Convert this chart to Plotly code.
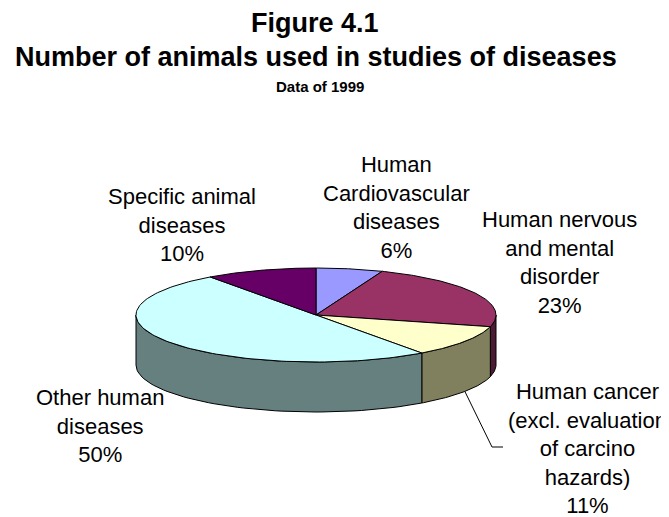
import numpy as np
import plotly.graph_objects as go

# ---- data ----
categories = ["Human Cardiovascular diseases", "Human nervous and mental disorder",
              "Human cancer (excl. evaluation of carcino hazards)",
              "Other human diseases", "Specific animal diseases"]
values = [6, 23, 11, 50, 10]
label_texts = ["Human<br>Cardiovascular<br>diseases<br>6%",
               "Human nervous<br>and mental<br>disorder<br>23%",
               "Human cancer<br>(excl. evaluation<br>of carcino<br>hazards)<br>11%",
               "Other human<br>diseases<br>50%",
               "Specific animal<br>diseases<br>10%"]

# ---- styles / geometry ----
top_colors = ["#9999FF", "#993366", "#FFFFCC", "#CCFFFF", "#660066"]
side_colors = ["#4D4D80", "#4D1A33", "#80805F", "#668080", "#330033"]
label_pos = [(396, 207), (559, 262), (587, 448), (100, 426), (182, 225)]
W, H = 669, 517
OFF = 8  # page body margin compensation
cx, cy, rx, ry, depth = 316, 315, 180, 47, 50
FONT = "Liberation Sans, Arial, sans-serif"


def pt(t_deg, dy=0.0):
    t = np.radians(t_deg)
    return cx + rx * np.sin(t), cy - ry * np.cos(t) + dy


fig = go.Figure()
total = float(sum(values))
bounds = np.concatenate([[0], np.cumsum(values) / total * 360.0])

# side walls (visible front half: 90..270 deg clockwise from top)
for i in range(len(values)):
    a, b = max(bounds[i], 90.0), min(bounds[i + 1], 270.0)
    if b <= a:
        continue
    ts = np.linspace(a, b, 60)
    xt, yt = pt(ts)
    xb, yb = pt(ts[::-1], depth)
    xs = np.concatenate([xt, xb, xt[:1]])
    ys = np.concatenate([yt, yb, yt[:1]])
    fig.add_trace(go.Scatter(x=xs, y=ys, mode="lines", fill="toself",
                             fillcolor=side_colors[i],
                             line=dict(color="black", width=1),
                             hoverinfo="skip", showlegend=False))

# top slices
for i in range(len(values)):
    ts = np.linspace(bounds[i], bounds[i + 1], 120)
    xt, yt = pt(ts)
    xs = np.concatenate([[cx], xt, [cx]])
    ys = np.concatenate([[cy], yt, [cy]])
    fig.add_trace(go.Scatter(x=xs, y=ys, mode="lines", fill="toself",
                             fillcolor=top_colors[i],
                             line=dict(color="black", width=1),
                             name=categories[i], hoverinfo="name",
                             showlegend=False))

# leader line for the cancer slice
mid = (bounds[2] + bounds[3]) / 2
sx, sy = pt(mid, depth)
fig.add_trace(go.Scatter(x=[sx, 492, 503], y=[sy, 447, 447], mode="lines",
                         line=dict(color="black", width=1),
                         hoverinfo="skip", showlegend=False))

for txt, (x, y) in zip(label_texts, label_pos):
    fig.add_annotation(x=x, y=y, xref="x", yref="y", text=txt, showarrow=False,
                       font=dict(family=FONT, size=22, color="#000000"),
                       align="center", xanchor="center", yanchor="middle")

fig.add_annotation(x=315, y=23, xref="x", yref="y", text="<b>Figure 4.1</b>",
                   showarrow=False, font=dict(family=FONT, size=27, color="black"),
                   xanchor="center", yanchor="middle")
fig.add_annotation(x=316, y=57, xref="x", yref="y",
                   text="<b>Number of animals used in studies of diseases</b>",
                   showarrow=False, font=dict(family=FONT, size=27, color="black"),
                   xanchor="center", yanchor="middle")
fig.add_annotation(x=320, y=86, xref="x", yref="y", text="<b>Data of 1999</b>",
                   showarrow=False, font=dict(family=FONT, size=15, color="black"),
                   xanchor="center", yanchor="middle")

fig.update_layout(width=W, height=H, margin=dict(l=0, r=0, t=0, b=0),
                  paper_bgcolor="white", plot_bgcolor="white",
                  xaxis=dict(range=[OFF, W + OFF], visible=False, fixedrange=True),
                  yaxis=dict(range=[H + OFF, OFF], visible=False, fixedrange=True))
fig.write_html("out.html")
